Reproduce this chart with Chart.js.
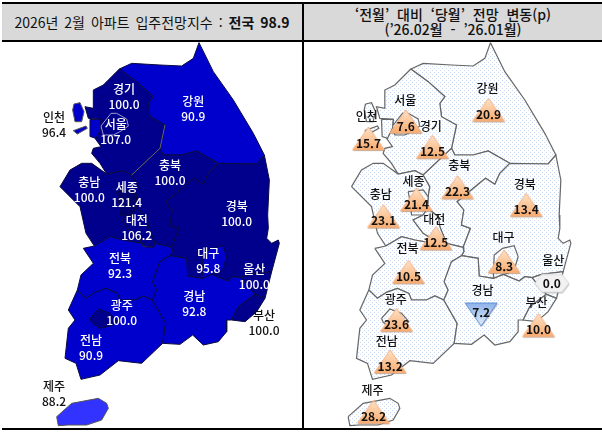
<!DOCTYPE html>
<html lang="ko">
<head>
<meta charset="utf-8">
<script src="https://cdn.jsdelivr.net/npm/chart.js@4/dist/chart.umd.min.js"></script>
<style>
  html, body { margin: 0; padding: 0; background: #fff; }
  body { width: 602px; height: 435px; position: relative; overflow: hidden; font-family: "Noto Sans CJK KR", sans-serif; color: #111; }
  .head { position: absolute; top: 4px; height: 36px; background: #d9d9d9; display: flex; align-items: center; justify-content: center; text-align: center; line-height: 15px; white-space: nowrap; }
  #headLeft { left: 2px; width: 300px; font-size: 14px; word-spacing: 2px; }
  #headRight { left: 304px; width: 298px; font-size: 14px; font-weight: 500; word-spacing: 4px; }
  .rule { position: absolute; background: #000; }
  canvas { position: absolute; }
</style>
</head>
<body>
<div class="head" id="headLeft"><span>2026년 2월 아파트 입주전망지수 : <b>전국 98.9</b></span></div>
<div class="head" id="headRight"><span>‘전월’ 대비 ‘당월’ 전망 변동(p)<br>(’26.02월 - ’26.01월)</span></div>
<div class="rule" style="left:2px;top:2px;width:600px;height:2px"></div>
<div class="rule" style="left:2px;top:40px;width:600px;height:2px"></div>
<div class="rule" style="left:2px;top:428px;width:600px;height:2px"></div>
<div class="rule" style="left:302px;top:2px;width:2px;height:428px"></div>
<canvas id="mapIndex" width="300" height="386" style="left:2px;top:42px"></canvas>
<canvas id="mapChange" width="298" height="386" style="left:304px;top:42px"></canvas>
<script>
const regions = ['강원', '경기', '인천', '충남', '충북', '경북', '전북', '전남', '경남', '울산', '부산', '제주', '세종', '대전', '서울', '광주', '대구'];
const indexValues = [90.9, 100.0, 96.4, 100.0, 100.0, 100.0, 92.3, 90.9, 92.8, 100.0, 100.0, 88.2, 121.4, 106.2, 107.0, 100.0, 95.8];
const changeValues = [20.9, 12.5, 15.7, 23.1, 22.3, 13.4, 10.5, 13.2, -7.2, 0.0, 10.0, 28.2, 21.4, 12.5, 7.6, 23.6, 8.3];

// outlines are in map units
const gangwon = [[597,128],[640,215],[700,300],[760,400],[793,465],[770,492],[655,490],[590,453],[545,465],[490,465],[480,445],[495,375],[450,350],[445,310],[460,290],[410,245],[358,207],[395,190],[480,195],[545,198],[580,175]];
const gyeonggi = [[358,207],[410,245],[460,290],[445,310],[450,350],[495,375],[480,445],[395,525],[370,512],[320,522],[300,490],[275,460],[280,445],[303,440],[285,415],[305,385],[305,358],[265,355],[255,320],[280,325],[280,270],[310,255]];
const gyeonggiEdge = [[495,375],[480,445],[395,525]];
const incheon = [[270,358],[305,358],[303,385],[288,415],[272,410]];
const incheonIsle1 = [[222,312],[240,308],[252,335],[245,365],[225,365],[218,330]];
const incheonIsle2 = [[220,392],[258,378],[262,385],[232,402]];
const chungnam = [[180,560],[210,510],[245,490],[275,490],[320,522],[370,512],[395,525],[415,560],[410,590],[408,625],[395,645],[365,660],[395,700],[420,715],[425,730],[370,720],[330,710],[283,738],[258,700],[240,620]];
const chungbuk = [[395,525],[480,445],[490,465],[545,465],[590,453],[655,490],[625,520],[610,553],[582,535],[497,605],[517,630],[510,675],[537,685],[515,742],[465,730],[445,680],[440,650],[408,625],[410,590],[415,560]];
const gyeongbuk = [[655,490],[770,492],[793,465],[808,540],[803,645],[805,685],[800,715],[815,730],[835,720],[838,730],[815,815],[750,823],[722,833],[700,830],[683,843],[635,823],[605,835],[563,828],[560,775],[510,767],[517,755],[515,742],[537,685],[510,675],[517,630],[497,605],[582,535],[610,553],[625,520]];
const jeonbuk = [[250,745],[283,738],[330,710],[370,720],[425,730],[430,740],[460,742],[465,730],[515,742],[517,755],[510,767],[480,785],[458,845],[470,870],[457,900],[430,888],[405,900],[360,900],[352,880],[318,865],[285,877],[258,895],[232,870],[243,825],[280,790]];
const jeonnam = [[232,870],[258,895],[285,877],[318,865],[352,880],[360,900],[405,900],[430,888],[457,900],[497,970],[488,1030],[425,1090],[355,1082],[300,1125],[243,1138],[228,1090],[195,1075],[205,985],[225,960],[205,930]];
const gyeongnam = [[510,767],[560,775],[563,828],[605,835],[635,823],[683,843],[700,830],[722,833],[740,855],[765,883],[715,920],[695,960],[680,960],[680,995],[655,1025],[610,1035],[578,1005],[540,1033],[488,1030],[497,970],[457,900],[470,870],[458,845],[480,785]];
const ulsan = [[722,833],[750,823],[815,815],[795,895],[765,883],[740,855]];
const busan = [[765,883],[795,895],[770,935],[735,965],[695,960],[715,920]];
const jeju = [[170,1250],[215,1210],[295,1195],[320,1210],[325,1225],[305,1260],[260,1275],[205,1275],[175,1277]];
const sejong = [[350,575],[395,570],[410,590],[408,625],[395,645],[360,645],[358,615]];
const daejeon = [[395,645],[408,625],[440,650],[445,680],[465,730],[460,742],[430,737],[420,715],[395,700],[365,660]];
const seoul = [[303,378],[333,340],[350,340],[380,357],[385,378],[360,395],[340,405],[310,405]];
const gwangju = [[270,955],[295,927],[330,940],[352,965],[340,975],[300,985],[275,967]];
const daegu = [[606,825],[608,765],[633,745],[668,737],[680,770],[668,810],[648,820],[635,823],[605,835]];

const outlines = [gangwon, gyeonggi, incheon, chungnam, chungbuk, gyeongbuk, jeonbuk, jeonnam, gyeongnam, ulsan, busan, jeju, sejong, daejeon, seoul, gwangju, daegu];

// label anchors for each map, same order as regions
const indexNameSpots = [[580,305],[372,268],[162,352],[268,547],[510,495],[710,620],[360,776],[273,1022],[583,890],[763,807],[792,945],[162,1158],[380,562],[410,660],[347,372],[365,915],[625,760]];
const darkIndexLabels = ['인천', '부산', '제주'];
const changeNameSpots = [[588,265],[418,380],[226,348],[268,582],[503,497],[700,552],[348,745],[286,1023],[573,870],[785,782],[735,907],[243,1172],[366,545],[428,657],[341,300],[313,898],[636,713]];
const changeMarkSpots = [[591,331],[423,442],[231,417],[276,650],[498,563],[704,616],[351,817],[296,1086],[569,945],[781,850],[741,977],[246,1237],[375,600],[433,716],[343,366],[315,961],[638,786]];

function indexColor(v) {
  if (v >= 120) return '#00006e';
  if (v >= 100) return '#00008c';
  if (v >= 90) return '#0000cc';
  return '#3333ff';
}

function closed(points) {
  return points.concat([points[0]]).map(p => ({ x: p[0], y: p[1] }));
}

function dotPattern() {
  const c = document.createElement('canvas');
  c.width = 4; c.height = 4;
  const g = c.getContext('2d');
  g.fillStyle = '#fff';
  g.fillRect(0, 0, 4, 4);
  g.fillStyle = '#c9daf0';
  g.fillRect(0, 0, 1, 1);
  g.fillRect(2, 2, 1, 1);
  return document.createElement('canvas').getContext('2d').createPattern(c, 'repeat');
}

// marker pictures for the change map
function markerImage(kind) {
  const c = document.createElement('canvas');
  c.width = 38; c.height = kind === 'flat' ? 22 : 30;
  const g = c.getContext('2d');
  g.shadowColor = 'rgba(0,0,0,0.35)';
  g.shadowOffsetX = 0.5;
  g.shadowOffsetY = 1;
  g.shadowBlur = 1;
  g.beginPath();
  if (kind === 'up') {
    g.moveTo(19, 3); g.lineTo(35, 26); g.lineTo(3, 26);
    const f = g.createLinearGradient(0, 3, 0, 26);
    f.addColorStop(0, '#ffe3c8'); f.addColorStop(1, '#f8ab6e');
    g.fillStyle = f;
    g.strokeStyle = '#f4b183';
  } else if (kind === 'down') {
    g.moveTo(3, 3); g.lineTo(35, 3); g.lineTo(19, 26);
    const f = g.createLinearGradient(0, 3, 0, 26);
    f.addColorStop(0, '#8db4ea'); f.addColorStop(1, '#e2edfb');
    g.fillStyle = f;
    g.strokeStyle = '#5f8fd3';
  } else {
    g.moveTo(2, 11); g.lineTo(9, 2); g.lineTo(29, 2); g.lineTo(36, 11); g.lineTo(29, 20); g.lineTo(9, 20);
    g.fillStyle = '#f2f2f2';
    g.strokeStyle = '#d9d9d9';
  }
  g.closePath();
  g.fill();
  g.shadowColor = 'transparent';
  g.stroke();
  return c;
}

const upMark = markerImage('up');
const downMark = markerImage('down');
const flatMark = markerImage('flat');

const mapLabels = {
  id: 'mapLabels',
  afterDatasetsDraw(chart, args, opts) {
    const { ctx, scales: { x, y } } = chart;
    ctx.save();
    ctx.textAlign = 'center';
    ctx.textBaseline = 'middle';
    opts.items.forEach(t => {
      ctx.font = t.font;
      ctx.fillStyle = t.color;
      ctx.fillText(t.text, x.getPixelForValue(t.x), y.getPixelForValue(t.y));
    });
    ctx.restore();
  }
};

function mapOptions(xMin, xMax, items) {
  return {
    responsive: false,
    animation: false,
    // no auto padding, the big markers would shrink the map otherwise
    layout: { padding: 0, autoPadding: false },
    scales: {
      x: { type: 'linear', display: false, min: xMin, max: xMax },
      y: { type: 'linear', display: false, reverse: true, min: 126, max: 1284 }
    },
    plugins: { legend: { display: false }, tooltip: { enabled: false }, mapLabels: { items } }
  };
}

const nameFont = '500 12px "Noto Sans CJK KR"';
const valueFont = '500 12px "Noto Sans CJK KR"';
const changeValueFont = '700 12px "Noto Sans CJK KR"';

const indexItems = [];
regions.forEach((r, i) => {
  const color = darkIndexLabels.includes(r) ? '#111' : '#fff';
  indexItems.push({ text: r, x: indexNameSpots[i][0], y: indexNameSpots[i][1], font: nameFont, color });
  indexItems.push({ text: indexValues[i].toFixed(1), x: indexNameSpots[i][0], y: indexNameSpots[i][1] + 45, font: valueFont, color });
});

const changeItems = [];
regions.forEach((r, i) => {
  const v = changeValues[i];
  const bump = v > 0 ? 12 : v < 0 ? -8 : 0;
  changeItems.push({ text: r, x: changeNameSpots[i][0], y: changeNameSpots[i][1], font: nameFont, color: '#111' });
  changeItems.push({ text: Math.abs(v).toFixed(1), x: changeMarkSpots[i][0], y: changeMarkSpots[i][1] + bump, font: changeValueFont, color: '#111' });
});

// chart.js paints high order first, so later shapes sit on top
const indexSets = outlines.map((o, i) => ({
  data: closed(o),
  showLine: true,
  fill: 'shape',
  backgroundColor: indexColor(indexValues[i]),
  borderColor: regions[i] === '서울' ? '#9a9ad0' : regions[i] === '제주' ? '#555' : '#0a0a40',
  borderWidth: 1,
  pointRadius: 0,
  order: 100 - i,
  clip: false
}));
[incheonIsle1, incheonIsle2].forEach(o => indexSets.push({
  data: closed(o),
  showLine: true,
  fill: 'shape',
  backgroundColor: indexColor(indexValues[regions.indexOf('인천')]),
  borderColor: '#555',
  borderWidth: 1,
  pointRadius: 0,
  order: 50,
  clip: false
}));
indexSets.push({
  data: gyeonggiEdge.map(p => ({ x: p[0], y: p[1] })),
  showLine: true,
  fill: false,
  borderColor: '#666',
  borderWidth: 1,
  pointRadius: 0,
  order: 1,
  clip: false
});

new Chart(document.getElementById('mapIndex'), {
  type: 'scatter',
  data: { datasets: indexSets },
  options: mapOptions(6, 906, indexItems),
  plugins: [mapLabels]
});

const dots = dotPattern();
const changeSets = outlines.concat([incheonIsle1, incheonIsle2]).map((o, i) => ({
  data: closed(o),
  showLine: true,
  fill: 'shape',
  backgroundColor: dots,
  borderColor: '#666',
  borderWidth: 1.2,
  pointRadius: 0,
  order: 100 - i,
  clip: false
}));
changeSets.push({
  data: changeMarkSpots.map(p => ({ x: p[0], y: p[1] })),
  showLine: false,
  pointRadius: 10,
  pointStyle: changeValues.map(v => v > 0 ? upMark : v < 0 ? downMark : flatMark),
  order: 0,
  clip: false
});

new Chart(document.getElementById('mapChange'), {
  type: 'scatter',
  data: { datasets: changeSets },
  options: mapOptions(37.5, 931.5, changeItems),
  plugins: [mapLabels]
});
</script>
</body>
</html>
